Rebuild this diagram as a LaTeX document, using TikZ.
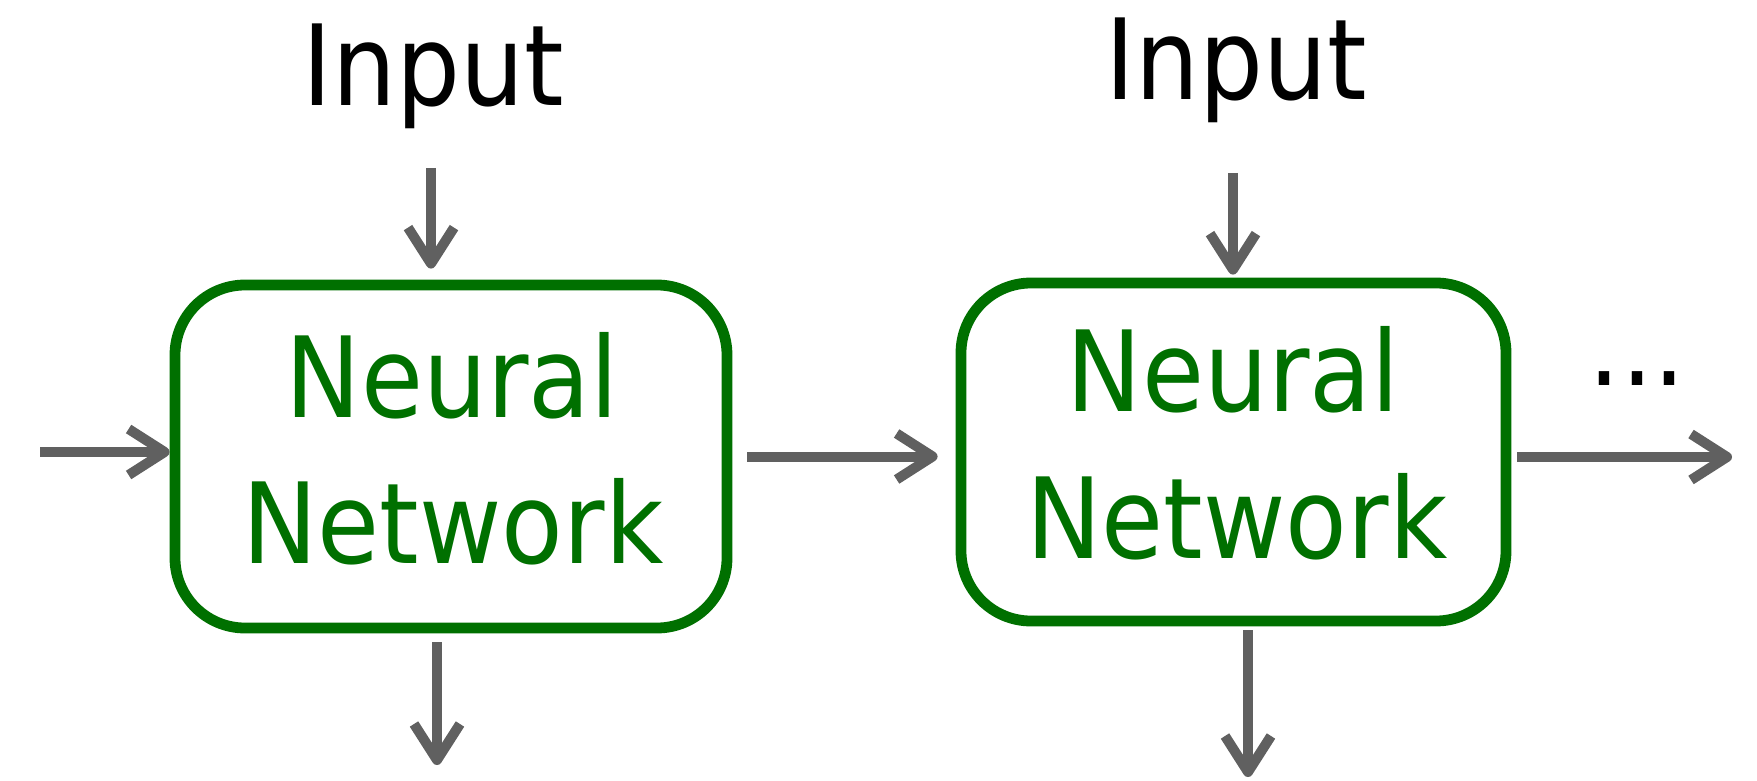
\documentclass[tikz,border=0pt]{standalone}
\usepackage{fontspec}
\setmainfont{DejaVu Sans}[FakeStretch=0.9]
\usetikzlibrary{arrows.meta}
\definecolor{nngreen}{RGB}{0,112,0}
\definecolor{arrowgray}{RGB}{96,96,96}

\begin{document}
\begin{tikzpicture}[x=0.5pt,y=-0.5pt,
  nnbox/.style={draw=nngreen, line width=5.4pt, rounded corners=35pt, inner sep=0pt, fill=white},
  nntext/.style={text=nngreen, anchor=base, inner sep=0pt, font=\fontsize{56}{67}\selectfont},
  toptext/.style={text=black, anchor=base, inner sep=0pt, font=\fontsize{56}{67}\selectfont},
  flow/.style={draw=arrowgray, line width=5pt,
    -{Straight Barb[length=18pt,width=23pt,line join=round]}}
]
\path[use as bounding box] (0,0) rectangle (1757,781);

% the two network cells
\node[nnbox, minimum width=276pt, minimum height=171.5pt] (box1) at (451,456.5) {};
\node[nnbox, minimum width=272.5pt, minimum height=169pt] (box2) at (1233.5,452) {};
\node[nntext] (nn1a) at (452,417) {Neural};
\node[nntext] (nn1b) at (453,563) {Network};
\node[nntext] (nn2a) at (1233,411) {Neural};
\node[nntext] (nn2b) at (1237,558) {Network};

% input labels
\node[toptext] (in1) at (433,106) {Input};
\node[toptext] (in2) at (1236,100) {Input};

% continuation mark
\node[toptext] (more) at (1637,385) {...};

% connector end points
\coordinate (in1s) at (431,168);
\coordinate (in2s) at (1233,173);
\coordinate (lin) at (40,452);
\coordinate (rout) at (1732,457);
\coordinate (o1) at (437,765);
\coordinate (o2) at (1248,777);

% connectors
\draw[flow, shorten >=5.5pt] (in1s) -- (in1s |- box1.north);
\draw[flow, shorten >=1.5pt] (in2s) -- (in2s |- box2.north);
\draw[flow] (lin) -- (lin -| box1.west);
\draw[flow, shorten <=7.5pt, shorten >=9pt] (box1.east) -- (box1.east -| box2.west);
\draw[flow, shorten <=3pt] (rout -| box2.east) -- (rout);
\draw[flow, shorten <=4.5pt] (o1 |- box1.south) -- (o1);
\draw[flow, shorten <=2pt] (o2 |- box2.south) -- (o2);
\end{tikzpicture}
\end{document}
